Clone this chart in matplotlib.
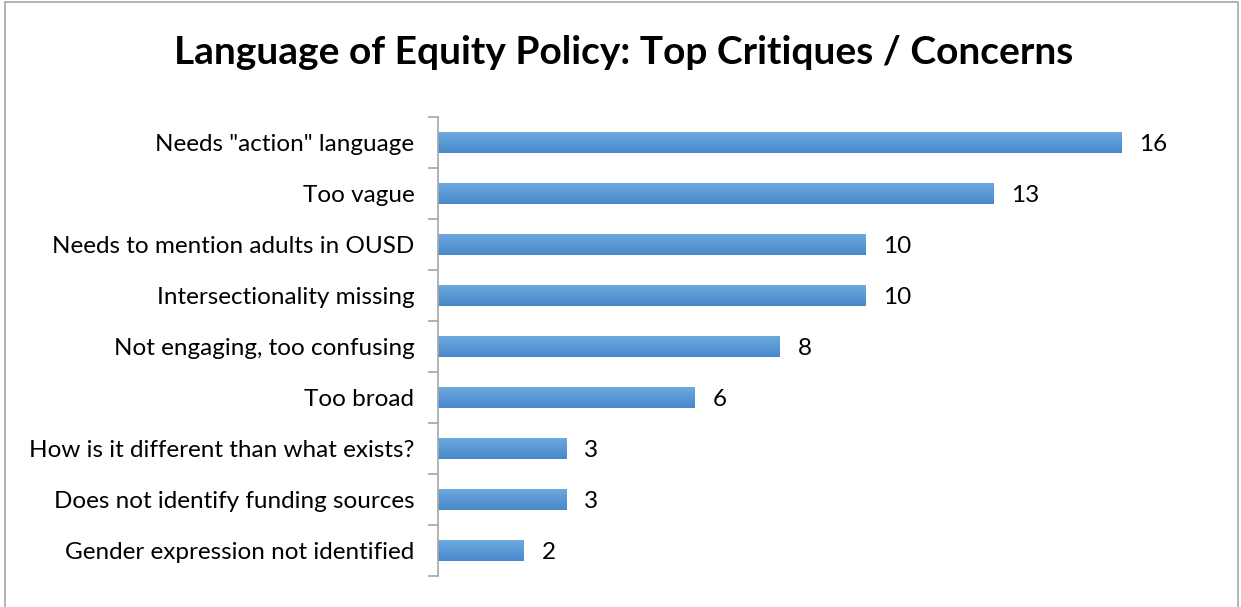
import matplotlib.pyplot as plt
import matplotlib as mpl
import numpy as np
from matplotlib.patches import Rectangle

plt.rcParams['font.family'] = ['Lato', 'DejaVu Sans']

categories = ['Needs "action" language', 'Too vague', 'Needs to mention adults in OUSD',
              'Intersectionality missing', 'Not engaging, too confusing', 'Too broad',
              'How is it different than what exists?', 'Does not identify funding sources',
              'Gender expression not identified']
counts = [16, 13, 10, 10, 8, 6, 3, 3, 2]

W, H = 1241, 607
fig = plt.figure(figsize=(W / 100, H / 100), dpi=100)

# outer chart border
fig.add_artist(Rectangle((5 / W, -0.01), (1238 - 5) / W, (H - 2) / H + 0.01,
                         transform=fig.transFigure, fill=False, edgecolor='#a6a6a6', lw=1.2))

ax = fig.add_axes([438 / W, (H - 576) / H, (1207 - 438) / W, (576 - 117) / H])

y = np.arange(len(categories))
bar_h = 0.41
xmax = 18

# gradient fill for bars (lighter top, darker bottom)
grad = np.linspace(0, 1, 64).reshape(-1, 1)
cmap = mpl.colors.LinearSegmentedColormap.from_list('bar', ['#6ea8df', '#4689cb'])
for yi, v in zip(y, counts):
    ax.imshow(grad, aspect='auto', cmap=cmap, interpolation='bilinear',
              extent=(0, v, yi + bar_h / 2, yi - bar_h / 2), zorder=2)
    ax.text(v + 0.42, yi + 0.04, str(v), va='center', ha='left', fontsize=17.5, color='black')
ax.set_xlim(0, xmax)
ax.set_ylim(len(categories) - 0.5, -0.5)

ax.set_yticks(y)
ax.set_yticklabels(categories, fontsize=17.5)
ax.tick_params(axis='y', which='major', length=0, pad=17)
ax.set_yticks(np.arange(-0.5, len(categories), 1), minor=True)
ax.tick_params(axis='y', which='minor', length=7, color='#a6a6a6', width=1.2)
ax.set_xticks([])

for s in ['top', 'right', 'bottom']:
    ax.spines[s].set_visible(False)
ax.spines['left'].set_color('#a6a6a6')
ax.spines['left'].set_linewidth(1.2)

fig.text(624 / W, (H - 53) / H, 'Language of Equity Policy: Top Critiques / Concerns',
         ha='center', va='center', fontsize=28, fontweight='bold')

plt.savefig('out.png', dpi=100)
